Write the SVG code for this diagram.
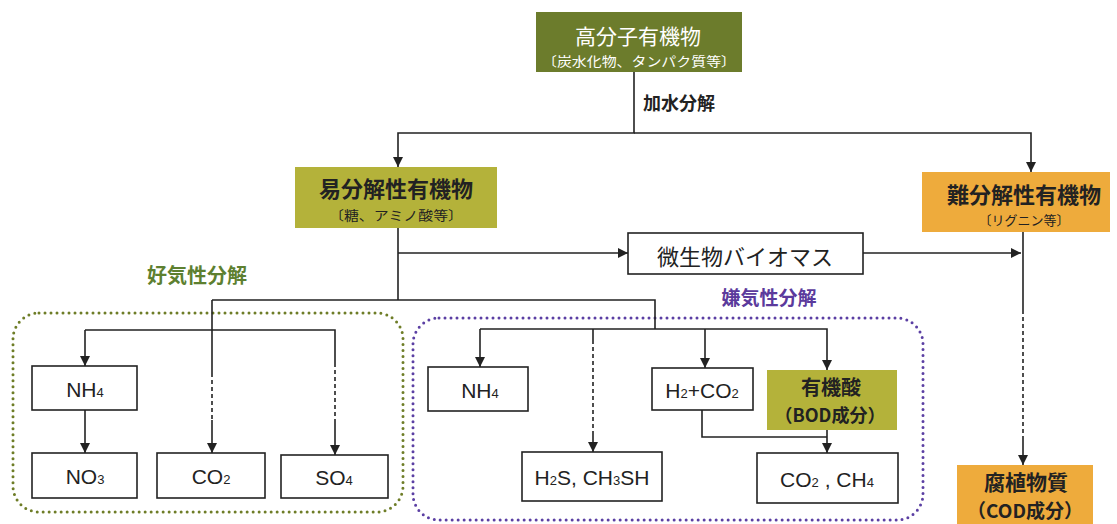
<svg xmlns="http://www.w3.org/2000/svg" width="1117" height="524" viewBox="0 0 1117 524">
<defs>
<marker id="ah" viewBox="0 0 10 10" refX="10" refY="5" markerWidth="10" markerHeight="10" markerUnits="userSpaceOnUse" orient="auto">
<path d="M0 0 L10 5 L0 10 Z" fill="#222"/>
</marker>
<style>
.jp{font-family:"Noto Sans CJK JP","Noto Sans",sans-serif;}
.f{font-family:"Liberation Sans",Arial,sans-serif;fill:#222;}
.box{fill:#fff;stroke:#222;stroke-width:1.6;}
.c{fill:none;stroke:#222;stroke-width:1.6;}
.d{fill:none;stroke:#222;stroke-width:1.6;stroke-dasharray:4 3;}
.ol{fill:#b4b23a;}
.or{fill:#eeab3c;}
.dk{fill:#222;}
</style>
</defs>
<rect width="1117" height="524" fill="#fff"/>

<g id="aerobic-area">
<rect x="13" y="313" width="390" height="199" rx="26" fill="none" stroke="#6e7d27" stroke-width="3" stroke-dasharray="0 6" stroke-linecap="round"/>
<text class="jp" x="197" y="283" font-size="20" font-weight="bold" fill="#5d8030" text-anchor="middle">好気性分解</text>
</g>
<g id="anaerobic-area">
<rect x="413" y="318" width="510" height="202" rx="26" fill="none" stroke="#5b3fa3" stroke-width="3" stroke-dasharray="0 6" stroke-linecap="round"/>
<text class="jp" x="769" y="305" font-size="19" font-weight="bold" fill="#5b3a9c" text-anchor="middle">嫌気性分解</text>
</g>

<g id="connectors">
<path class="c" d="M634 72 V133 H398 V167" marker-end="url(#ah)"/>
<path class="c" d="M634 133 H1031 V172" marker-end="url(#ah)"/>
<path class="c" d="M398 228 V300"/>
<path class="c" d="M398 253 H628" marker-end="url(#ah)"/>
<path class="c" d="M863 253 H1021" marker-end="url(#ah)"/>
<path class="c" d="M1023 232 V310"/>
<path class="d" d="M1023 310 V440"/>
<path class="c" d="M1023 440 V465" marker-end="url(#ah)"/>
<path class="c" d="M212 300 H655 V329"/>
<path class="c" d="M212 300 V373"/>
<path class="d" d="M212 373 V420"/>
<path class="c" d="M212 420 V453" marker-end="url(#ah)"/>
<path class="c" d="M85 330 H335 V363"/>
<path class="c" d="M85 330 V366" marker-end="url(#ah)"/>
<path class="d" d="M335 363 V420"/>
<path class="c" d="M335 420 V455" marker-end="url(#ah)"/>
<path class="c" d="M85 410 V453" marker-end="url(#ah)"/>
<path class="c" d="M480 329 H827 V370" marker-end="url(#ah)"/>
<path class="c" d="M480 329 V367" marker-end="url(#ah)"/>
<path class="c" d="M593 329 V340"/>
<path class="d" d="M593 340 V435"/>
<path class="c" d="M593 435 V452" marker-end="url(#ah)"/>
<path class="c" d="M705 329 V368" marker-end="url(#ah)"/>
<path class="c" d="M702 410 V437 H827"/>
<path class="c" d="M827 430 V453" marker-end="url(#ah)"/>
<text class="jp dk" x="643" y="110" font-size="18" font-weight="bold">加水分解</text>
</g>

<g id="polymer">
<rect x="536" y="12" width="206" height="60" fill="#6c7c2c"/>
<text class="jp" x="638" y="44" font-size="21" fill="#fff" text-anchor="middle">高分子有機物</text>
<text class="jp" x="639" y="66" font-size="13" fill="#fff" text-anchor="middle" textLength="194" lengthAdjust="spacingAndGlyphs">〔炭水化物、タンパク質等〕</text>
</g>

<g id="easy">
<rect x="295" y="167" width="202" height="61" class="ol"/>
<text class="jp dk" x="396" y="197" font-size="22" font-weight="bold" text-anchor="middle">易分解性有機物</text>
<text class="jp dk" x="396" y="220" font-size="13" text-anchor="middle" textLength="134" lengthAdjust="spacingAndGlyphs">〔糖、アミノ酸等〕</text>
</g>

<g id="hard">
<rect x="922" y="172" width="188" height="60" class="or"/>
<text class="jp dk" x="1024" y="203" font-size="22" font-weight="bold" text-anchor="middle">難分解性有機物</text>
<text class="jp dk" x="1024" y="225" font-size="13" text-anchor="middle">〔リグニン等〕</text>
</g>

<g id="biomass">
<rect x="628" y="233" width="235" height="41" class="box"/>
<text class="jp dk" x="745" y="265" font-size="22" text-anchor="middle">微生物バイオマス</text>
</g>

<g id="nh4-aer">
<rect x="32" y="366" width="105" height="44" class="box"/>
<text class="f" x="85" y="397" font-size="21" text-anchor="middle">NH<tspan font-size="13">4</tspan></text>
</g>
<g id="no3">
<rect x="32" y="453" width="105" height="45" class="box"/>
<text class="f" x="85" y="484" font-size="21" text-anchor="middle">NO<tspan font-size="13">3</tspan></text>
</g>
<g id="co2-aer">
<rect x="157" y="453" width="108" height="45" class="box"/>
<text class="f" x="211" y="484" font-size="21" text-anchor="middle">CO<tspan font-size="13">2</tspan></text>
</g>
<g id="so4">
<rect x="281" y="455" width="107" height="43" class="box"/>
<text class="f" x="334" y="485" font-size="21" text-anchor="middle">SO<tspan font-size="13">4</tspan></text>
</g>

<g id="nh4-ana">
<rect x="428" y="367" width="100" height="44" class="box"/>
<text class="f" x="480" y="398" font-size="21" text-anchor="middle">NH<tspan font-size="13">4</tspan></text>
</g>
<g id="h2s">
<rect x="522" y="452" width="140" height="49" class="box"/>
<text class="f" x="592" y="485" font-size="21" text-anchor="middle">H<tspan font-size="13">2</tspan>S, CH<tspan font-size="13">3</tspan>SH</text>
</g>
<g id="h2co2">
<rect x="652" y="368" width="101" height="42" class="box"/>
<text class="f" x="702" y="398" font-size="21" text-anchor="middle">H<tspan font-size="13">2</tspan>+CO<tspan font-size="13">2</tspan></text>
</g>
<g id="organic-acid">
<rect x="767" y="370" width="130" height="60" class="ol"/>
<text class="jp dk" x="831" y="395" font-size="20" font-weight="bold" text-anchor="middle">有機酸</text>
<text class="jp dk" x="830" y="422" font-size="18" font-weight="bold" text-anchor="middle">（BOD成分）</text>
</g>
<g id="co2ch4">
<rect x="757" y="453" width="141" height="50" class="box"/>
<text class="f" x="827" y="487" font-size="21" text-anchor="middle">CO<tspan font-size="13">2</tspan> , CH<tspan font-size="13">4</tspan></text>
</g>

<g id="humus">
<rect x="957" y="465" width="136" height="59" class="or"/>
<text class="jp dk" x="1026" y="490" font-size="21" font-weight="bold" text-anchor="middle">腐植物質</text>
<text class="jp dk" x="1025" y="518" font-size="19" font-weight="bold" text-anchor="middle">（COD成分）</text>
</g>
</svg>
